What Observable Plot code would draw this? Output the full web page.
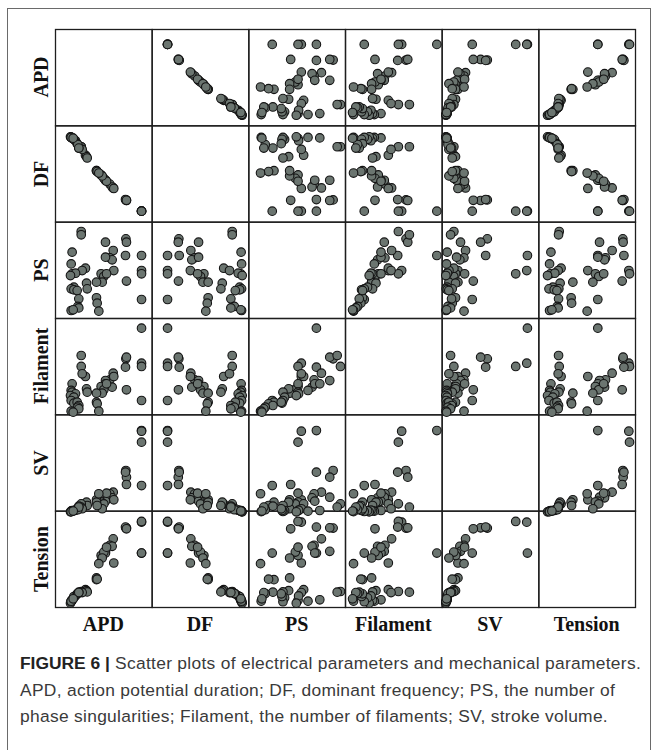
<!DOCTYPE html>
<html>
<head>
<meta charset="utf-8">
<script src="https://cdn.jsdelivr.net/npm/d3@7"></script>
<script src="https://cdn.jsdelivr.net/npm/@observablehq/plot@0.6"></script>
<style>
  body { margin: 0; background: #fff; width: 657px; height: 750px; position: relative; overflow: hidden; }
  #outer { position: absolute; left: 7px; top: 8px; width: 644px; height: 780px; border: 1px solid #6a6a6a; box-sizing: border-box; }
  #chart { position: absolute; left: 0; top: 0; }
  .lab { position: absolute; font: bold 20px "Liberation Serif", "Times New Roman", serif; color: #111; line-height: 20px; white-space: nowrap; }
  #cap { position: absolute; left: 20px; top: 650px; font: 17.4px "Liberation Sans", Arial, sans-serif; letter-spacing: 0.3px; line-height: 26.5px; color: #3a3a3a; white-space: nowrap; }
  #cap b { color: #222; letter-spacing: 0; }
</style>
</head>
<body>
<div id="outer"></div>
<div id="chart"></div>
<div id="labels"></div>
<div id="cap"><b>FIGURE 6 |</b> Scatter plots of electrical parameters and mechanical parameters.<br>APD, action potential duration; DF, dominant frequency; PS, the number of<br>phase singularities; Filament, the number of filaments; SV, stroke volume.</div>
<script>
// Variable names (row / column labels)
const vars = ["APD", "DF", "PS", "Filament", "SV", "Tension"];

// Estimated values of each observation (relative units, 0-100 of each variable's plotted range)
const apd = [89, 89, 89, 89, 72.8, 73.4, 72.4, 73.4, 59.7, 56.2, 58.6, 60.3, 51.7, 51.7, 47.2, 50, 52.8, 48.3, 42.4, 42.4, 43.1, 44.8, 31, 32.1, 32.8, 26.6, 26.6, 27.6, 17.2, 16.2, 17.2, 20.7, 15.5, 19, 16.2, 19, 22.4, 24.1, 23.1, 24.1, 16.2, 18.3];
const df = [15.9, 15.9, 15.9, 15.9, 27.6, 27, 28, 27.2, 40, 44, 41, 39.5, 48, 48, 53.5, 50, 47, 52.5, 57.9, 57.9, 57, 55.5, 74, 72.5, 71.1, 82.8, 82.8, 80, 92, 92.5, 91.5, 89, 93.1, 90.5, 92.5, 90.5, 86, 81.4, 85, 81.4, 92.5, 91.7];
const ps = [69.9, 54.3, 50.9, 24.2, 87.2, 83.7, 69.9, 43.3, 75.1, 67.5, 65.4, 54.3, 83.7, 68.2, 50.9, 48.1, 50.9, 42.2, 42.2, 26, 20.4, 12.1, 56.7, 41.2, 35.3, 94.8, 91.4, 54.3, 73.4, 61.2, 50.9, 51.5, 49.1, 37, 35.3, 34.3, 33.5, 24.9, 17, 15.5, 12.8, 13.5];
const filament = [94.5, 58.1, 54.7, 19.4, 62.6, 64.4, 54, 30.5, 47.7, 40.8, 33.2, 44.3, 40.1, 36.7, 33.9, 30.5, 36.7, 27, 27, 17.6, 15.9, 8.3, 44.3, 31.5, 28, 54.7, 66.1, 47.1, 36.7, 29.8, 28, 26.3, 24.5, 22.8, 19.4, 16.6, 17.6, 14.2, 12.5, 10.7, 8.3, 7.3];
const sv = [88.2, 87.5, 76.1, 31.1, 46.7, 39.8, 45, 32.2, 24.2, 22.5, 18.3, 16.3, 19, 14.9, 14, 12, 23.2, 7, 16.3, 13.8, 10.4, 22.6, 12.1, 13.8, 10.4, 12.1, 8.7, 7, 5.2, 4.5, 4.8, 5.5, 3.8, 5, 4.2, 5.2, 6.9, 9.7, 6, 8.7, 4, 4.6];
const tension = [61, 93.1, 93.8, 61, 86.9, 87.2, 88, 86.2, 75.8, 69, 68, 50.7, 62.8, 61, 58.5, 62, 67.1, 55.9, 35.2, 33.4, 33.9, 50, 23, 22, 20.7, 21.1, 20.4, 20, 12.5, 11.1, 12, 16.5, 9, 14.5, 10.5, 15.9, 18.7, 20.4, 19, 20, 11.1, 13.5];

const columns = {APD: apd, DF: df, PS: ps, Filament: filament, SV: sv, Tension: tension};

// Long table: one row per (row variable, column variable, observation)
const long = [];
for (const r of vars) for (const c of vars) for (let i = 0; i < apd.length; i++) {
  long.push({row: r, col: c, x: columns[c][i], y: columns[r][i]});
}

const W = 657, H = 640, ML = 55, MR = 22, MT = 29, MB = 33;
const plot = Plot.plot({
  width: W, height: H,
  marginLeft: ML, marginRight: MR, marginTop: MT, marginBottom: MB,
  facet: {data: long, x: "col", y: "row"},
  fx: {domain: vars, padding: 0, round: false, axis: null},
  fy: {domain: vars, padding: 0, round: false, axis: null},
  x: {domain: [0, 100], axis: null},
  y: {domain: [4.5, 104.5], axis: null},
  style: {background: "transparent", overflow: "visible"},
  marks: [
    Plot.frame({stroke: "#1e1e1e", strokeWidth: 1.3}),
    Plot.dot(long, {x: "x", y: "y", filter: d => d.row !== d.col, r: 4.3, fill: "#6b7570", stroke: "#141414", strokeWidth: 1.1})
  ]
});
document.getElementById("chart").appendChild(plot);

// Row and column labels
const labels = document.getElementById("labels");
const cw = (W - ML - MR) / vars.length, ch = (H - MT - MB) / vars.length;
vars.forEach((v, i) => {
  const rl = document.createElement("div");
  rl.className = "lab";
  rl.textContent = v;
  rl.style.left = "41px";
  rl.style.top = (MT + (i + 0.5) * ch) + "px";
  rl.style.transform = "translate(-50%,-50%) rotate(-90deg)";
  labels.appendChild(rl);
  const cl = document.createElement("div");
  cl.className = "lab";
  cl.textContent = v;
  cl.style.left = (ML + (i + 0.5) * cw) + "px";
  cl.style.top = "623.5px";
  cl.style.transform = "translate(-50%,-50%)";
  labels.appendChild(cl);
});
</script>
</body>
</html>
